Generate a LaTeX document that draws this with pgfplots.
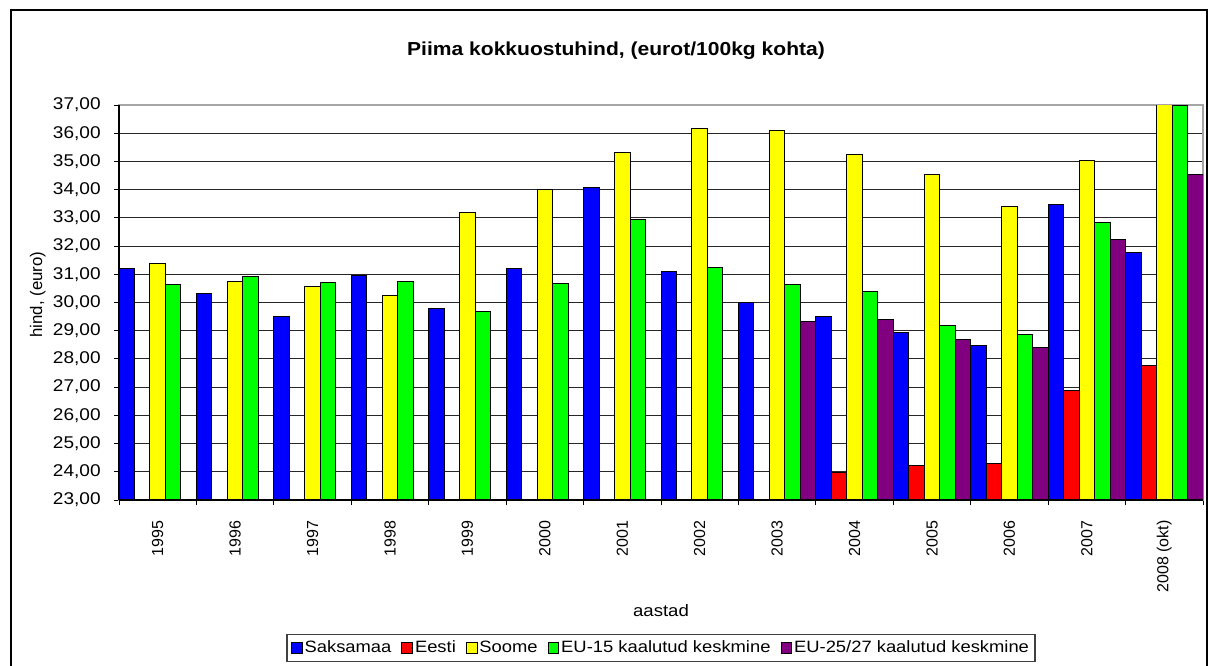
\documentclass[border=0pt]{standalone}
\usepackage{pgfplots}
\pgfplotsset{compat=1.18}
\usepackage{fontspec}
\setmainfont{Liberation Sans}[FakeStretch=1.12]
\newfontfamily\rotfont{Liberation Sans}
\definecolor{cBlue}{RGB}{0,0,255}
\definecolor{cRed}{RGB}{255,0,0}
\definecolor{cYellow}{RGB}{255,255,0}
\definecolor{cGreen}{RGB}{0,255,0}
\definecolor{cPurple}{RGB}{128,0,128}
\begin{document}
\begin{tikzpicture}
\useasboundingbox (0,0) rectangle (604pt,332.5pt);
\draw[line width=1.3pt] (5.5pt,-5pt) -- (5.5pt,327.5pt) -- (603.8pt,327.5pt) -- (603.8pt,-5pt);
\begin{axis}[
  at={(59.5pt,82.5pt)}, anchor=south west,
  scale only axis, width=542pt, height=197.5pt,
  ybar=0pt, bar width=0.2,
  xmin=-0.5, xmax=13.5, ymin=23, ymax=37,
  xtick={0,...,13},
  xticklabels={1995,1996,1997,1998,1999,2000,2001,2002,2003,2004,2005,2006,2007,2008 (okt)},
  major x tick style={draw=none},
  minor xtick={-0.5,0.5,...,13.5},
  ytick={23,24,...,37},
  tick align=outside, tick pos=left,
  major tick length=2.5pt, minor tick length=2.5pt,
  tick style={black, line width=0.5pt},
  ymajorgrids, grid style={black!85, line width=0.5pt},
  axis line style={gray!70, line width=0.6pt},
  /pgf/number format/fixed, /pgf/number format/fixed zerofill, /pgf/number format/precision=2,
  /pgf/number format/use comma, /pgf/number format/1000 sep={}, /pgf/number format/assume math mode=true,
  yticklabel style={font=\fontsize{8.5}{10}\selectfont, inner sep=0pt, xshift=-6.5pt, anchor=east},
  xticklabel style={font=\rotfont\fontsize{8}{10}\selectfont, yshift=-7.5pt, rotate=90, anchor=east, inner sep=0pt},
  title={Piima kokkuostuhind, (eurot/100kg kohta)},
  title style={font=\fontsize{9.4}{11}\selectfont\bfseries, at={(axis description cs:0.4585,1.106)}, anchor=center, yshift=0pt},
  ylabel={hind, (euro)},
  ylabel style={font=\rotfont\fontsize{8.4}{10}\selectfont, at={(axis description cs:-0.075,0.52)}, anchor=center},
  xlabel={aastad},
  xlabel style={font=\fontsize{8.3}{10}\selectfont, at={(axis description cs:0.5,-0.279)}, anchor=center},
  legend columns=-1,
  legend style={at={(axis description cs:0.5,-0.375)}, anchor=center, draw=black!75, line width=0.6pt,
    font=\fontsize{8.2}{10}\selectfont, inner xsep=2pt, inner ysep=2pt,
    /tikz/every even column/.append style={column sep=4pt},
    nodes={inner xsep=1pt, inner ysep=1pt}},
  legend image code/.code={\draw[#1, draw=black, line width=0.4pt] (0pt,-2.7pt) rectangle (5.4pt,2.7pt);},
  every axis plot/.append style={draw=black, line width=0.5pt},
  after end axis/.code={
    \draw[black, line width=0.6pt] (rel axis cs:0,0) -- (rel axis cs:0,1);
    \draw[black, line width=0.6pt] (rel axis cs:0,0) -- (rel axis cs:1,0);
  },
]
\addplot[fill=cBlue] coordinates {(0,31.20) (1,30.32) (2,29.51) (3,30.94) (4,29.78) (5,31.19) (6,34.08) (7,31.10) (8,30.00) (9,29.50) (10,28.93) (11,28.49) (12,33.47) (13,31.79)};
\addplot[fill=cRed] coordinates {(9,23.98) (10,24.23) (11,24.29) (12,26.88) (13,27.76)};
\addplot[fill=cYellow] coordinates {(0,31.40) (1,30.76) (2,30.56) (3,30.25) (4,33.19) (5,34.00) (6,35.31) (7,36.17) (8,36.11) (9,35.26) (10,34.53) (11,33.41) (12,35.05) (13,37.60)};
\addplot[fill=cGreen] coordinates {(0,30.63) (1,30.92) (2,30.71) (3,30.76) (4,29.67) (5,30.67) (6,32.94) (7,31.24) (8,30.63) (9,30.40) (10,29.19) (11,28.86) (12,32.83) (13,36.99)};
\addplot[fill=cPurple] coordinates {(8,29.31) (9,29.39) (10,28.69) (11,28.40) (12,32.25) (13,34.53)};
\legend{Saksamaa,Eesti,Soome,EU-15 kaalutud keskmine,EU-25/27 kaalutud keskmine}
\end{axis}
\end{tikzpicture}
\end{document}
